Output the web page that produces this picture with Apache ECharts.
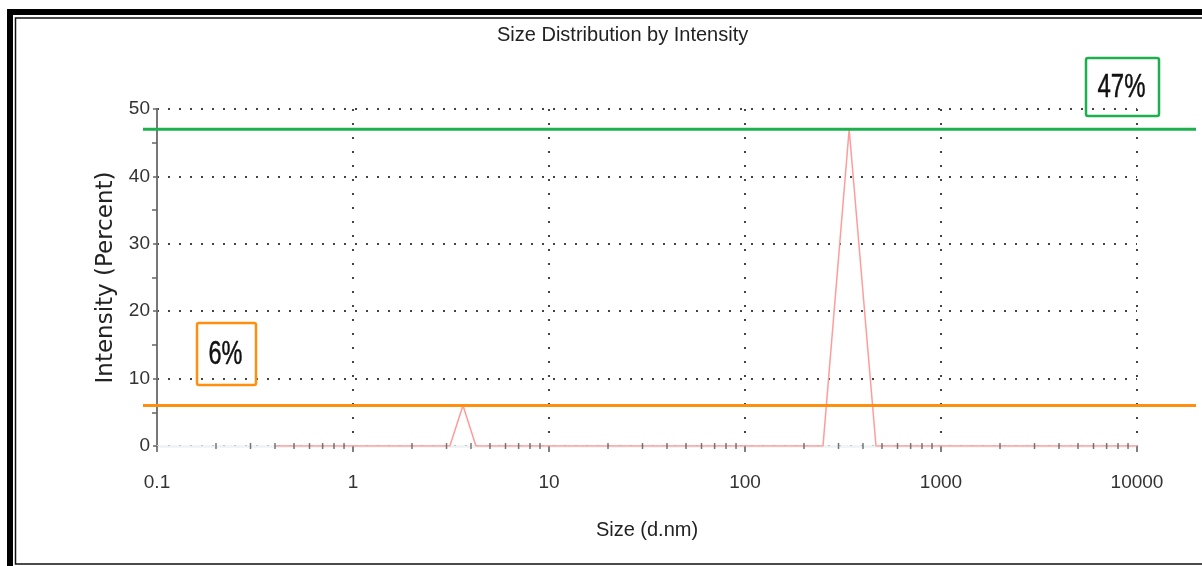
<!DOCTYPE html>
<html>
<head>
<meta charset="utf-8">
<script src="https://cdn.jsdelivr.net/npm/echarts@6/dist/echarts.min.js"></script>
<style>
html,body{margin:0;padding:0;background:#fff;}
#chart{width:1202px;height:566px;}
</style>
</head>
<body>
<div id="chart"></div>
<script>
// ---- data ----
const titleText = 'Size Distribution by Intensity';
const xAxisName = 'Size (d.nm)';
const yAxisName = 'Intensity (Percent)';
const sizes = [0.4, 3.12, 3.64, 4.24, 250, 340, 466, 10000];       // d.nm
const intensity = [0, 0, 6, 0, 0, 47, 0, 0];                      // percent
const xMinorTicks = [0.2,0.3,0.4,0.5,0.6,0.7,0.8,0.9,
                     2,3,4,5,6,7,8,9,
                     20,30,40,50,60,70,80,90,
                     200,300,400,500,600,700,800,900,
                     2000,3000,4000,5000,6000,7000,8000,9000];
const refLevels = [47, 6];
const refLabels = ['47%', '6%'];
const refColors = ['#1cb14d', '#ff8f0f'];

const sans = "'Liberation Sans', Arial, sans-serif";

const chart = echarts.init(document.getElementById('chart'), null, {renderer: 'canvas'});
const gridL = 157, gridR = 65, gridT = 109, gridB = 120;

const option = {
  backgroundColor: '#ffffff',
  animation: false,
  title: {
    text: titleText,
    left: 497, top: 25, padding: 0,
    textStyle: {fontFamily: sans, fontSize: 20, fontWeight: 'normal', color: '#222'}
  },
  grid: {left: gridL, right: gridR, top: gridT, bottom: gridB, containLabel: false},
  xAxis: {
    type: 'log', logBase: 10, min: 0.1, max: 10000,
    name: xAxisName, nameLocation: 'middle', nameGap: 74,
    nameTextStyle: {fontFamily: sans, fontSize: 20, color: '#222'},
    axisLine: {show: true, onZero: false, lineStyle: {color: '#edf2f2', width: 2.5}},
    axisTick: {show: true, length: 6, lineStyle: {color: '#555', width: 1.5}},
    axisLabel: {
      margin: 27, fontFamily: sans, fontSize: 19, color: '#333',
      formatter: v => String(Number(v.toPrecision(6)))
    },
    splitLine: {show: true, lineStyle: {color: '#444', width: 2, type: [2, 12]}}
  },
  yAxis: {
    type: 'value', min: 0, max: 50, interval: 10,
    name: yAxisName, nameLocation: 'middle', nameGap: 39,
    nameTextStyle: {fontFamily: "'DejaVu Sans', sans-serif", fontSize: 23, color: '#222'},
    axisLine: {show: true, lineStyle: {color: '#777', width: 2}},
    axisTick: {show: true, length: 4, lineStyle: {color: '#666', width: 1.5}},
    minorTick: {show: true, splitNumber: 2, length: 5, lineStyle: {color: '#666', width: 1.5}},
    axisLabel: {margin: 7, fontFamily: sans, fontSize: 19, color: '#333'},
    splitLine: {show: true, lineStyle: {color: '#444', width: 2, type: [2, 9]}}
  },
  series: [
    {
      type: 'line', name: 'Intensity',
      data: sizes.map((s, i) => [s, intensity[i]]),
      showSymbol: false, silent: true,
      lineStyle: {color: '#ff9b9b', width: 1.5},
      z: 3
    },
    {
      type: 'scatter', name: 'minor ticks',
      data: xMinorTicks.map(v => [v, 0]),
      symbol: 'rect', symbolSize: [1.5, 6], silent: true,
      itemStyle: {color: '#555'},
      z: 4
    }
  ]
};
chart.setOption(option);

function buildGraphics() {
  const g = [
    {type: 'rect', id: 'frameOuter', silent: true, z: 100,
     shape: {x: 10, y: 12, width: 1250, height: 600},
     style: {fill: 'none', stroke: '#000', lineWidth: 6}},
    {type: 'rect', id: 'frameInner', silent: true, z: 100,
     shape: {x: 15.5, y: 18, width: 1250, height: 546},
     style: {fill: 'none', stroke: '#111', lineWidth: 1.5}}
  ];
  const width = chart.getWidth();
  const x0 = gridL - 14, x1 = width - gridR + 59;
  refLevels.forEach((lv, i) => {
    const y = chart.convertToPixel({xAxisIndex: 0, yAxisIndex: 0}, [1, lv])[1];
    g.push({type: 'line', id: 'ref' + i, silent: true, z: 50,
            shape: {x1: x0, y1: y, x2: x1, y2: y},
            style: {stroke: refColors[i], lineWidth: 3}});
  });
  // annotation boxes
  const boxes = [
    {x: 1086, y: 58, w: 73, h: 58},
    {x: 197, y: 323, w: 59, h: 62}
  ];
  const fs = [24, 23.5];
  boxes.forEach((b, i) => {
    g.push({type: 'rect', id: 'box' + i, silent: true, z: 60,
            shape: {x: b.x, y: b.y, width: b.w, height: b.h, r: 2},
            style: {fill: 'none', stroke: refColors[i], lineWidth: 2.5}});
    g.push({type: 'text', id: 'boxText' + i, silent: true, z: 61,
            x: b.x + b.w / 2 - 1, y: b.y + b.h / 2 + 1, scaleY: 1.4,
            style: {text: refLabels[i], fontFamily: sans, fontSize: fs[i], fill: '#111',
                    stroke: '#111', lineWidth: 0.35,
                    align: 'center', verticalAlign: 'middle'}});
  });
  return g;
}
chart.setOption({graphic: buildGraphics()});
</script>
</body>
</html>
